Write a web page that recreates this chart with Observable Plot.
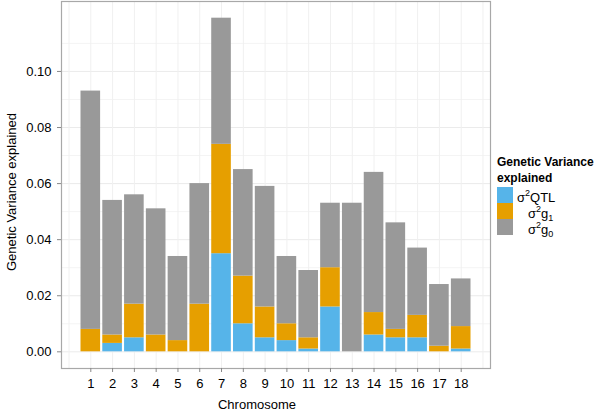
<!DOCTYPE html>
<html>
<head>
<meta charset="utf-8">
<script src="https://cdn.jsdelivr.net/npm/d3@7"></script>
<script src="https://cdn.jsdelivr.net/npm/@observablehq/plot@0.6"></script>
<style>
  html, body { margin: 0; padding: 0; background: #fff; }
  #wrap { position: relative; width: 600px; height: 410px; font-family: "Liberation Sans", Arial, sans-serif; color: #000; }
  #chart { position: absolute; left: 0; top: 0; }
  .ytitle { position: absolute; left: 11px; top: 192px; transform: translate(-50%, -50%) rotate(-90deg); font-size: 13px; white-space: nowrap; }
  .xtitle { position: absolute; left: 257px; top: 404px; transform: translate(-50%, -50%); font-size: 13px; white-space: nowrap; }
  #legend { position: absolute; left: 497px; top: 154px; font-size: 13px; white-space: nowrap; }
  #legend .ttl { font-weight: bold; line-height: 16px; font-size: 12px; white-space: nowrap; }
  #legend .row { position: relative; height: 16px; width: 100px; }
  #legend .key { position: absolute; left: 0; top: 0; width: 16px; height: 16px; }
  #legend .lab { position: absolute; top: -2px; white-space: nowrap; font-size: 13px; line-height: 16px; }
  #legend sup { font-size: 9px; vertical-align: 6px; }
  #legend sub { font-size: 9px; vertical-align: -3px; }
</style>
</head>
<body>
<div id="wrap">
  <div id="chart"></div>
  <div class="ytitle">Genetic Variance explained</div>
  <div class="xtitle">Chromosome</div>
  <div id="legend"></div>
</div>
<script>
const chromosomes = [1, 2, 3, 4, 5, 6, 7, 8, 9, 10, 11, 12, 13, 14, 15, 16, 17, 18];
const qtl = [0, 0.003, 0.005, 0, 0, 0, 0.035, 0.010, 0.005, 0.004, 0.001, 0.016, 0, 0.006, 0.005, 0.005, 0, 0.001];
const g1  = [0.008, 0.003, 0.012, 0.006, 0.004, 0.017, 0.039, 0.017, 0.011, 0.006, 0.004, 0.014, 0, 0.008, 0.003, 0.008, 0.002, 0.008];
const g0  = [0.085, 0.048, 0.039, 0.045, 0.030, 0.043, 0.045, 0.038, 0.043, 0.024, 0.024, 0.023, 0.053, 0.050, 0.038, 0.024, 0.022, 0.017];
const seriesKeys = ["QTL", "g1", "g0"];
const seriesColors = ["#56B4E9", "#E69F00", "#999999"];
const yTicks = [0, 0.02, 0.04, 0.06, 0.08, 0.10];
const yMinor = [0.01, 0.03, 0.05, 0.07, 0.09, 0.11];
const xGrid = d3.range(0, 20);

const series = {QTL: qtl, g1: g1, g0: g0};
const data = [];
chromosomes.forEach((c, i) => {
  seriesKeys.forEach(k => data.push({chr: c, series: k, value: series[k][i]}));
});

const totalMax = d3.max(chromosomes, (c, i) => qtl[i] + g1[i] + g0[i]);
const xr = [0.55, 18.45];
const xpad = (xr[1] - xr[0]) * 0.05;
const ypad = totalMax * 0.05;

const plot = Plot.plot({
  width: 495,
  height: 410,
  marginLeft: 61,
  marginRight: 5,
  marginTop: 1,
  marginBottom: 42,
  style: {fontFamily: "Liberation Sans, Arial, sans-serif", fontSize: "13px", color: "#000", background: "#fff"},
  x: {type: "linear", domain: [xr[0] - xpad, xr[1] + xpad]},
  y: {domain: [-ypad, totalMax + ypad]},
  color: {domain: seriesKeys, range: seriesColors},
  marks: [
    Plot.ruleY(yMinor, {stroke: "#f4f4f4", strokeWidth: 1}),
    Plot.ruleY(yTicks, {stroke: "#ebebeb", strokeWidth: 1}),
    Plot.ruleX(xGrid, {stroke: "#f0f0f0", strokeWidth: 1}),
    Plot.rectY(data, Plot.stackY({
      x1: d => d.chr - 0.45,
      x2: d => d.chr + 0.45,
      y: "value",
      fill: "series",
      order: seriesKeys
    })),
    Plot.frame({stroke: "#a8a8a8", strokeWidth: 1.2}),
    Plot.axisY({ticks: yTicks, tickFormat: d3.format(".2f"), tickSize: 4, tickPadding: 6, stroke: "#888", label: null, fontSize: 13, fill: "#000"}),
    Plot.axisX({ticks: chromosomes, tickFormat: d => String(d), tickSize: 4, tickPadding: 6, stroke: "#888", label: null, fontSize: 13, fill: "#000"})
  ]
});
document.getElementById("chart").appendChild(plot);

const legendLabels = {
  QTL: {html: "σ<sup>2</sup>QTL", left: 20},
  g1: {html: "σ<sup>2</sup>g<sub>1</sub>", left: 31},
  g0: {html: "σ<sup>2</sup>g<sub>0</sub>", left: 31}
};
const legend = document.getElementById("legend");
legend.innerHTML = '<div class="ttl">Genetic Variance<br>explained</div>' +
  seriesKeys.map((k, i) =>
    `<div class="row"><div class="key" style="background:${seriesColors[i]}"></div><div class="lab" style="left:${legendLabels[k].left}px">${legendLabels[k].html}</div></div>`
  ).join("");
legend.querySelector(".ttl").style.marginBottom = "1px";
</script>
</body>
</html>
